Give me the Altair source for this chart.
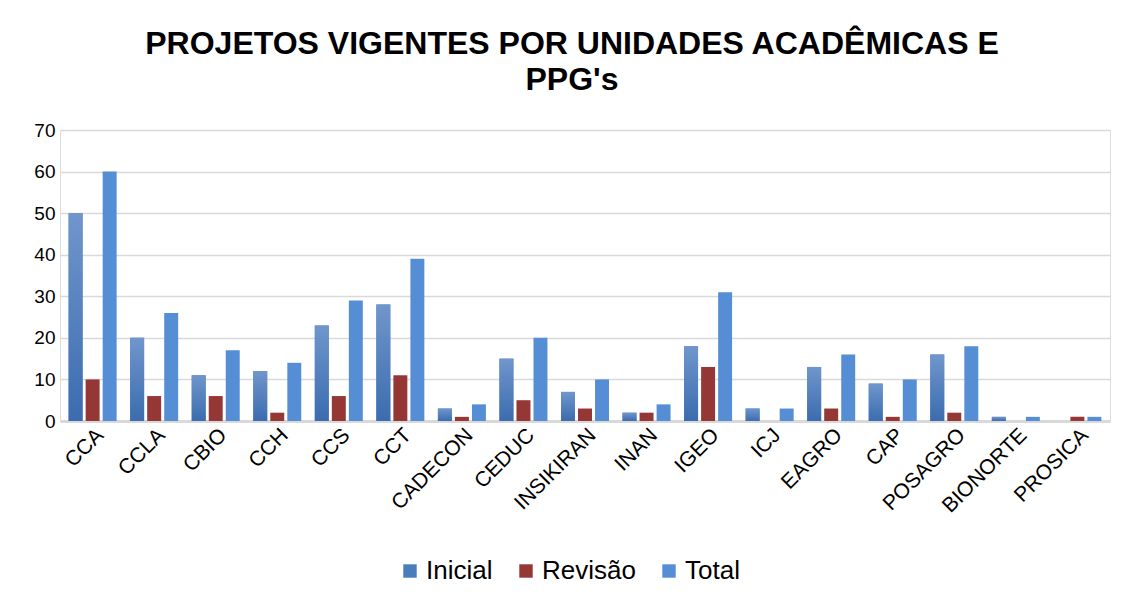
import altair as alt
import pandas as pd

categories = ["CCA", "CCLA", "CBIO", "CCH", "CCS", "CCT", "CADECON", "CEDUC",
              "INSIKIRAN", "INAN", "IGEO", "ICJ", "EAGRO", "CAP", "POSAGRO",
              "BIONORTE", "PROSICA"]
inicial = [50, 20, 11, 12, 23, 28, 3, 15, 7, 2, 18, 3, 13, 9, 16, 1, 0]
revisao = [10, 6, 6, 2, 6, 11, 1, 5, 3, 2, 13, 0, 3, 1, 2, 0, 1]
total = [60, 26, 17, 14, 29, 39, 4, 20, 10, 4, 31, 3, 16, 10, 18, 1, 1]
series = ["Inicial", "Revisão", "Total"]
colors = ["#4a7ebb", "#953735", "#558ed5"]

rows = []
for i, c in enumerate(categories):
    for s, vals in zip(series, [inicial, revisao, total]):
        rows.append({"Unidade": c, "Série": s, "Valor": vals[i]})
df = pd.DataFrame(rows)

font = "Liberation Sans"

x_enc = alt.X("Unidade:N", sort=categories, title=None,
              scale=alt.Scale(paddingInner=0.22, paddingOuter=0.14),
              axis=alt.Axis(labelAngle=-45, labelFontSize=21, labelColor="#000000",
                            labelFont=font, ticks=False, domainColor="#d9d9d9",
                            domainWidth=3, labelPadding=3, labelAlign="right",
                            labelBaseline="top"))
xo_enc = alt.XOffset("Série:N", sort=series, scale=alt.Scale(paddingInner=0.18))
y_enc = alt.Y("Valor:Q", title=None,
              scale=alt.Scale(domain=[0, 70]),
              axis=alt.Axis(values=list(range(0, 71, 10)), labelFontSize=19,
                            labelColor="#000000", labelFont=font, ticks=False,
                            domain=False, gridColor="#d9d9d9", gridWidth=1.5,
                            labelPadding=5))

base = alt.Chart(df).mark_bar().encode(
    x=x_enc, xOffset=xo_enc, y=y_enc,
    color=alt.Color("Série:N", sort=series,
                    scale=alt.Scale(domain=series, range=colors),
                    legend=alt.Legend(orient="none", legendX=337, legendY=428,
                                      direction="horizontal", title=None,
                                      symbolType="square", symbolSize=180,
                                      labelFontSize=26, labelFont=font,
                                      labelColor="#000000", columnPadding=20,
                                      labelOffset=3, symbolStrokeWidth=0)),
)

grad = alt.Gradient(gradient="linear",
                    stops=[alt.GradientStop(color="#7096cc", offset=0),
                           alt.GradientStop(color="#3b6caf", offset=1)],
                    x1=0, x2=0, y1=0, y2=1)

inicial_layer = alt.Chart(df).transform_filter(
    alt.datum["Série"] == "Inicial"
).mark_bar(color=grad).encode(x=x_enc, xOffset=xo_enc, y=y_enc)

chart = alt.layer(base, inicial_layer).properties(
    width=1050, height=291,
    autosize=alt.AutoSizeParams(type="none"),
    padding={"left": 52, "top": 122, "right": 14, "bottom": 179},
    title=alt.TitleParams(["PROJETOS VIGENTES POR UNIDADES ACADÊMICAS E", "PPG's"],
                          fontSize=32, font=font, fontWeight="bold", color="#000000",
                          anchor="middle", lineHeight=36, offset=24, dx=-13),
).configure_view(stroke=None).configure(background="white")

chart.save("out.html", embed_options={"renderer": "svg", "actions": False})
